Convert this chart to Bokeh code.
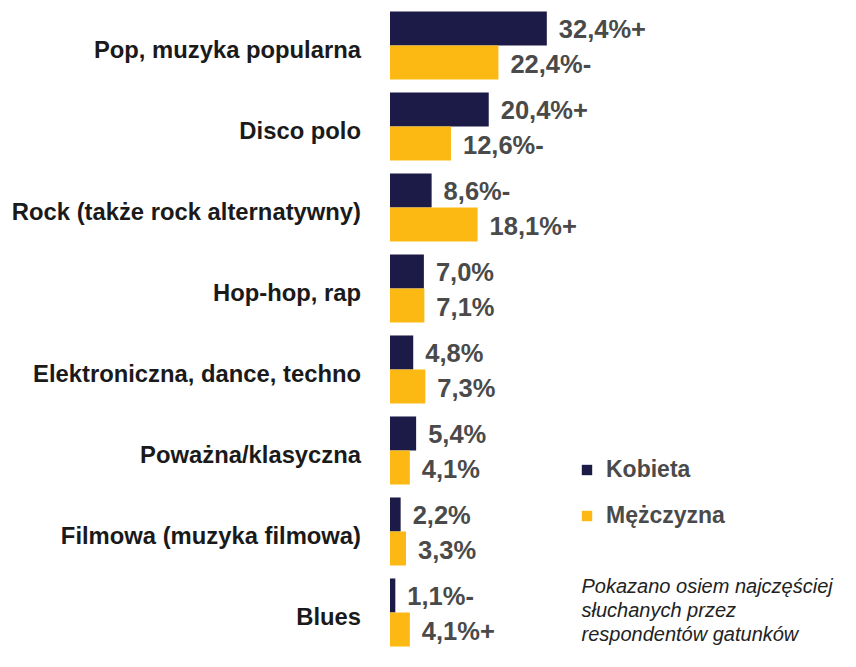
from bokeh.plotting import figure
from bokeh.models import ColumnDataSource, Range1d, Legend, LegendItem, Label
from bokeh.core.properties import value
from bokeh.embed import file_html
from bokeh.resources import INLINE

categories = [
    "Pop, muzyka popularna",
    "Disco polo",
    "Rock (także rock alternatywny)",
    "Hop-hop, rap",
    "Elektroniczna, dance, techno",
    "Poważna/klasyczna",
    "Filmowa (muzyka filmowa)",
    "Blues",
]
women = [32.4, 20.4, 8.6, 7.0, 4.8, 5.4, 2.2, 1.1]
men = [22.4, 12.6, 18.1, 7.1, 7.3, 4.1, 3.3, 4.1]
women_sig = ["+", "+", "-", "", "", "", "", "-"]
men_sig = ["-", "-", "+", "", "", "", "", "+"]
series_names = ["Kobieta", "Mężczyzna"]
note_lines = ["Pokazano osiem najczęściej", "słuchanych przez", "respondentów gatunków"]

NAVY = "#1c1a46"
GOLD = "#fdb913"
FONT = "Liberation Sans"


def fmt(v, s):
    return f"{v:.1f}".replace(".", ",") + "%" + s


idx = list(range(len(categories)))
off = 0.21
h = 0.42

src_w = ColumnDataSource(dict(y=[i - off for i in idx], x=women,
                              lab=[fmt(v, s) for v, s in zip(women, women_sig)]))
src_m = ColumnDataSource(dict(y=[i + off for i in idx], x=men,
                              lab=[fmt(v, s) for v, s in zip(men, men_sig)]))
src_c = ColumnDataSource(dict(y=idx, x=[0] * len(idx), lab=categories))

W, H = 840, 651
px_per = 4.84
x0 = 389.5
step = 81.0
top = 45.0
p = figure(width=W, height=H, output_backend="svg", toolbar_location=None,
           x_range=Range1d(-x0 / px_per, (W - x0) / px_per),
           y_range=Range1d((H - top) / step, (0 - top) / step),
           x_axis_type=None, y_axis_type=None,
           min_border=0, outline_line_color=None, background_fill_color="white",
           border_fill_color="white")
p.grid.visible = False

rw = p.hbar(y="y", right="x", left=0, height=h, source=src_w, fill_color=NAVY, line_color=None)
rm = p.hbar(y="y", right="x", left=0, height=h, source=src_m, fill_color=GOLD, line_color=None)

for src in (src_w, src_m):
    p.text(x="x", y="y", text="lab", source=src, x_offset=12, y_offset=1,
           text_align="left", text_baseline="middle",
           text_font=value(FONT), text_font_style="bold", text_font_size="25.5px",
           text_color="#4a4a4a")

p.text(x="x", y="y", text="lab", source=src_c, x_offset=-29, y_offset=4,
       text_align="right", text_baseline="middle",
       text_font=value(FONT), text_font_style="bold", text_font_size="23.8px",
       text_color="#1a1a1a")

legend = Legend(items=[LegendItem(label=series_names[0], renderers=[rw]),
                       LegendItem(label=series_names[1], renderers=[rm])],
                location=(580, 122), orientation="vertical",
                glyph_width=13, glyph_height=13, label_standoff=13, spacing=19,
                padding=0, margin=0, border_line_color=None, background_fill_alpha=0,
                label_text_font=FONT, label_text_font_style="bold",
                label_text_font_size="23px", label_text_color="#4a4a4a")
p.add_layout(legend)

for k, line in enumerate(note_lines):
    p.add_layout(Label(x=581, y=H - 585 - 24 * k, x_units="screen", y_units="screen",
                       text=line, text_font=FONT, text_font_style="italic",
                       text_font_size="20px", text_color="#222222",
                       text_baseline="middle"))

open("out.html", "w").write(file_html(p, INLINE))
